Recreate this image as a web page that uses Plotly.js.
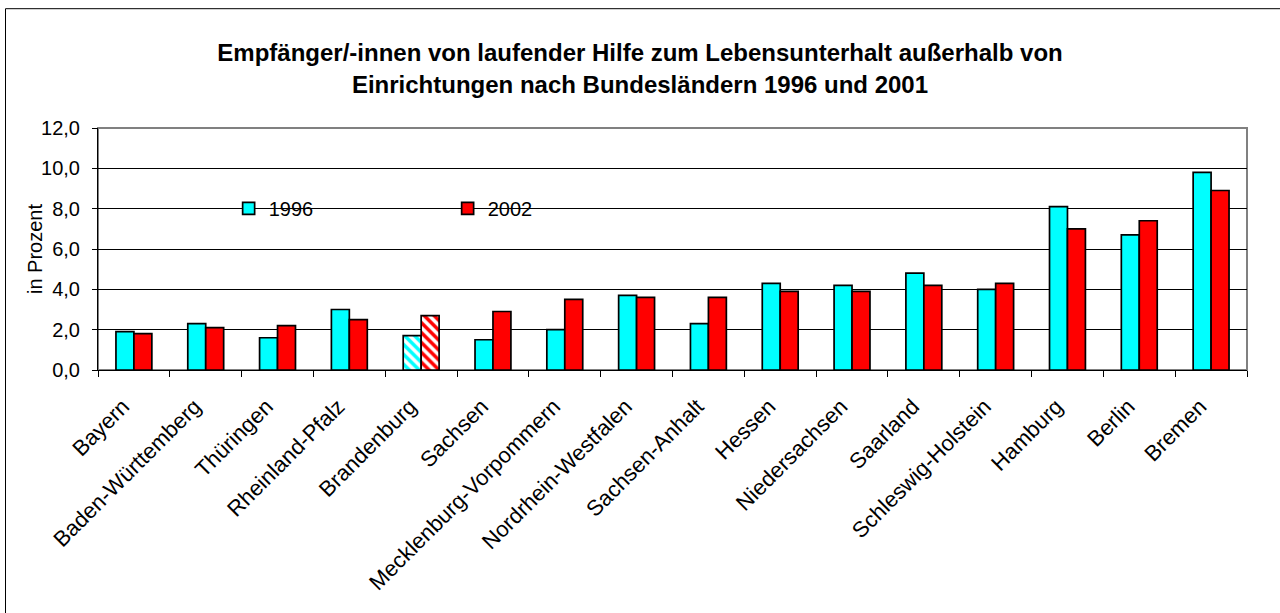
<!DOCTYPE html>
<html>
<head>
<meta charset="utf-8">
<script src="https://cdn.plot.ly/plotly-3.0.1.min.js"></script>
<style>
html,body{margin:0;padding:0;background:#fff;}
#chart{width:1280px;height:613px;}
</style>
</head>
<body>
<div id="chart"></div>
<script>
const categories = ["Bayern","Baden-Württemberg","Thüringen","Rheinland-Pfalz","Brandenburg","Sachsen","Mecklenburg-Vorpommern","Nordrhein-Westfalen","Sachsen-Anhalt","Hessen","Niedersachsen","Saarland","Schleswig-Holstein","Hamburg","Berlin","Bremen"];
const values1996 = [1.9,2.3,1.6,3.0,1.7,1.5,2.0,3.7,2.3,4.3,4.2,4.8,4.0,8.1,6.7,9.8];
const values2002 = [1.8,2.1,2.2,2.5,2.7,2.9,3.5,3.6,3.6,3.9,3.9,4.2,4.3,7.0,7.4,8.9];
const seriesNames = ["1996","2002"];
const hatched = ["","","","","\\","","","","","","","","","","",""];
const yTicks = [0,2,4,6,8,10,12];
const yTitle = "in Prozent";
const chartTitle = "<b>Empfänger/-innen von laufender Hilfe zum Lebensunterhalt außerhalb von<br>Einrichtungen nach Bundesländern 1996 und 2001</b>";

const cyan = "#00FFFF", red = "#FF0000";

function makeTrace(name, vals, color){
  return {type:"bar", name:name, x:categories, y:vals,
    marker:{color:color, line:{color:"#000", width:1.7},
      pattern:{shape:hatched, fillmode:"replace", bgcolor:"#FFFFFF",
               fgcolor:color, fgopacity:1, size:7, solidity:0.5}}};
}
const traces = [makeTrace(seriesNames[0], values1996, cyan), makeTrace(seriesNames[1], values2002, red)];

const font = "Liberation Sans, Arial, sans-serif";
const layout = {
  width:1280, height:613,
  margin:{l:98, r:33, t:128, b:243, pad:0},
  paper_bgcolor:"#fff", plot_bgcolor:"#fff",
  font:{family:font, size:20, color:"#000"},
  title:{text:chartTitle,
    font:{family:font, size:24, color:"#000"}, x:0.5, xanchor:"center", y:0.9, yanchor:"middle"},
  barmode:"group", bargap:0.5, bargroupgap:0,
  separators:",.",
  showlegend:true,
  legend:{orientation:"h", x:0.1137, xanchor:"left", y:0.668, yanchor:"middle",
    bgcolor:"rgba(0,0,0,0)", borderwidth:0, entrywidth:174,
    font:{family:font, size:20, color:"#000"}},
  xaxis:{type:"category", showgrid:false, showline:true, linecolor:"#000", linewidth:1,
    ticks:"outside", tickson:"boundaries", ticklen:6, tickcolor:"#000", tickwidth:1,
    tickangle:-45, ticklabelstandoff:14, ticklabelshift:-11,
    tickfont:{family:font, size:22, color:"#000"}, fixedrange:true},
  yaxis:{range:[0,12], tickvals:yTicks, tickformat:".1f", showgrid:true, gridcolor:"#000", gridwidth:1,
    zeroline:false, showline:true, linecolor:"#000", linewidth:1,
    ticks:"outside", ticklen:5, tickcolor:"#000", ticklabelstandoff:8,
    tickfont:{family:font, size:20, color:"#000"}},
  annotations:[
    {text:yTitle, xref:"paper", yref:"paper", x:-0.0548, y:0.5, xanchor:"center", yanchor:"middle",
     textangle:-90, showarrow:false, font:{family:font, size:20, color:"#000"}}
  ],
  shapes:[
    {type:"rect", xref:"paper", yref:"paper", x0:0.0583, x1:0.4404, y0:0.62, y1:0.72,
     fillcolor:"#fff", line:{width:0}, layer:"between"},
    {type:"rect", xref:"paper", yref:"paper", x0:0, x1:1, y0:0, y1:1,
     fillcolor:"rgba(0,0,0,0)", line:{color:"#808080", width:2}, layer:"between"},
    {type:"rect", xref:"paper", yref:"paper", x0:-0.0805, x1:1.2, y0:-1.5, y1:1.493,
     fillcolor:"rgba(0,0,0,0)", line:{color:"#000", width:1}, layer:"above"}
  ]
};
Plotly.newPlot("chart", traces, layout, {displayModeBar:false, staticPlot:true});
</script>
</body>
</html>
